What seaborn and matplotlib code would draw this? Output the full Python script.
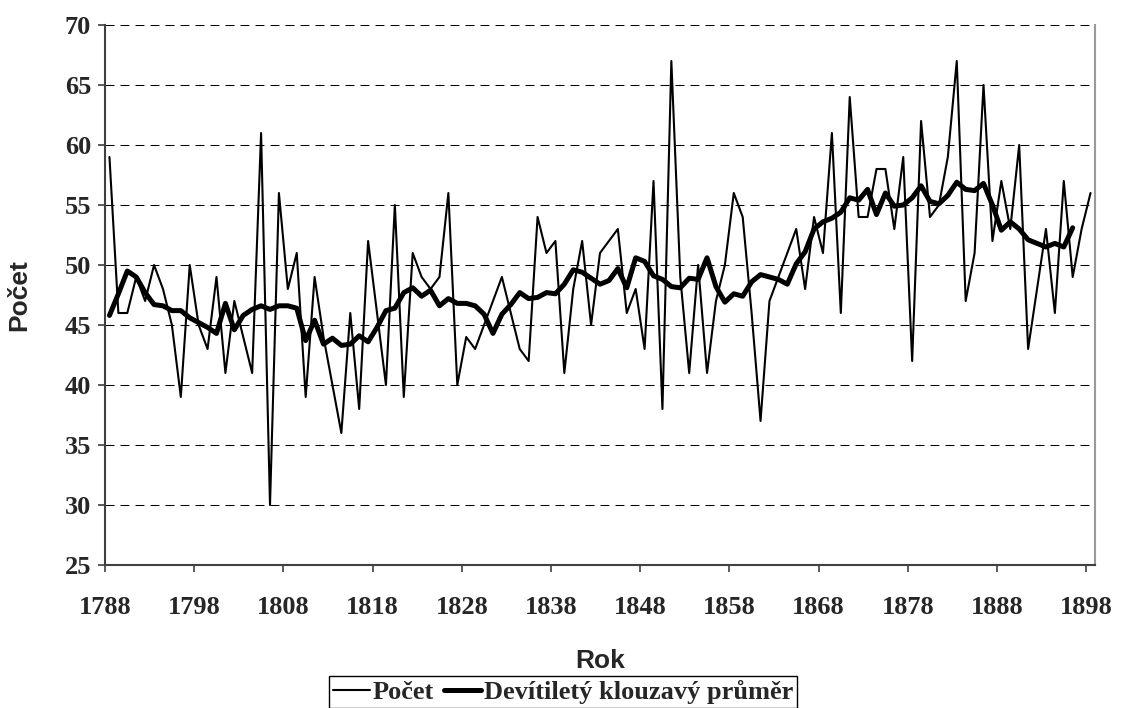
import matplotlib
matplotlib.use("Agg")
import matplotlib.pyplot as plt
import seaborn as sns
import pandas as pd

# ---- data -------------------------------------------------------------
years = list(range(1788, 1899))
pocet = [59, 46, 46, 49, 47, 50, 48, 45, 39, 50,
         45, 43, 49, 41, 47, 44, 41, 61, 30, 56,
         48, 51, 39, 49, 44, 40, 36, 46, 38, 52,
         46, 40, 55, 39, 51, 49, 48, 49, 56, 40,
         44, 43, 45, 47, 49, 46, 43, 42, 54, 51,
         52, 41, 48, 52, 45, 51, 52, 53, 46, 48,
         43, 57, 38, 67, 49, 41, 50, 41, 47, 50,
         56, 54, 46, 37, 47, 49, 51, 53, 48, 54,
         51, 61, 46, 64, 54, 54, 58, 58, 53, 59,
         42, 62, 54, 55, 59, 67, 47, 51, 65, 52,
         57, 53, 60, 43, 48, 53, 46, 57, 49, 53,
         56]

ma_years = list(range(1788, 1897))
klouzavy = [45.8, 47.6, 49.5, 49.0, 47.7, 46.7, 46.6, 46.2, 46.2, 45.6,
            45.2, 44.8, 44.3, 46.8, 44.6, 45.8, 46.3, 46.6, 46.3, 46.6,
            46.6, 46.4, 43.7, 45.4, 43.4, 43.9, 43.3, 43.4, 44.1, 43.6,
            44.8, 46.2, 46.4, 47.7, 48.1, 47.4, 47.9, 46.6, 47.2, 46.8,
            46.8, 46.6, 45.9, 44.3, 45.9, 46.7, 47.7, 47.2, 47.3, 47.7,
            47.6, 48.4, 49.6, 49.4, 48.9, 48.4, 48.7, 49.7, 48.1, 50.6,
            50.3, 49.1, 48.8, 48.2, 48.1, 48.9, 48.8, 50.6, 48.2, 46.9,
            47.6, 47.4, 48.6, 49.2, 49.0, 48.8, 48.4, 50.1, 51.1, 53.0,
            53.6, 53.9, 54.4, 55.6, 55.4, 56.3, 54.2, 56.0, 54.9, 55.0,
            55.6, 56.6, 55.3, 55.1, 55.8, 56.9, 56.3, 56.2, 56.8, 55.0,
            52.9, 53.6, 53.0, 52.1, 51.8, 51.5, 51.8, 51.5, 53.1]

x_tick_labels = [str(y) for y in range(1788, 1899, 10)]
y_ticks = list(range(25, 71, 5))

label_pocet = "Počet"
label_ma = "Devítiletý klouzavý průměr"
x_title = "Rok"
y_title = "Počet"

# ---- style ------------------------------------------------------------
sns.set_style("white")
plt.rcParams["font.family"] = ["Liberation Serif", "DejaVu Serif"]

W, H = 1122, 708
fig = plt.figure(figsize=(W / 100, H / 100), dpi=100)
L, R, T, B = 105, 1095, 25, 565
ax = fig.add_axes([L / W, (H - B) / H, (R - L) / W, (B - T) / H])

df1 = pd.DataFrame({"rok": years, "val": pocet})
df2 = pd.DataFrame({"rok": ma_years, "val": klouzavy})
sns.lineplot(data=df1, x="rok", y="val", ax=ax, color="black", lw=1.5,
             label=label_pocet)
sns.lineplot(data=df2, x="rok", y="val", ax=ax, color="black", lw=3.6,
             label=label_ma)
handles, labels = ax.get_legend_handles_labels()
if ax.get_legend() is not None:
    ax.get_legend().remove()

ax.set_xlim(years[0] - 0.5, years[-1] + 0.5)
ax.set_ylim(25, 70)

ax.set_xticks([years[0] - 0.5 + 10 * k for k in range(len(x_tick_labels))])
ax.set_xticklabels(x_tick_labels)
ax.set_yticks(y_ticks)
ax.set_yticklabels([str(v) for v in y_ticks])

serif = ["Liberation Serif", "DejaVu Serif"]
for lab in ax.get_xticklabels() + ax.get_yticklabels():
    lab.set_fontfamily(serif)
    lab.set_fontweight("bold")
    lab.set_fontsize(19)

ax.tick_params(axis="both", which="major", direction="out", length=5,
               width=1.2, color="#404040", bottom=True, left=True)
ax.tick_params(axis="x", pad=17)
ax.tick_params(axis="y", pad=5)

ax.yaxis.grid(True, color="black", linestyle=(0, (8.6, 5.8)), lw=0.75)
ax.xaxis.grid(False)

for side in ["left", "bottom"]:
    ax.spines[side].set_color("#404040")
    ax.spines[side].set_linewidth(1.5)
ax.spines["right"].set_color("#999999")
ax.spines["right"].set_linewidth(1.5)
ax.spines["top"].set_visible(False)

sans = ["Liberation Sans", "DejaVu Sans"]
ax.set_xlabel(x_title, fontfamily=sans, fontweight="bold", fontsize=19)
ax.set_ylabel(y_title, fontfamily=sans, fontweight="bold", fontsize=19)
ax.xaxis.set_label_coords(0.5, -0.155)
ax.yaxis.set_label_coords(-0.074, 0.5)

leg = fig.legend(handles, labels, loc="lower center",
                 bbox_to_anchor=(0.502, 0.0), ncol=2, frameon=True,
                 fancybox=False, edgecolor="black", framealpha=1,
                 prop=dict(family=serif, weight="bold", size=19),
                 handlelength=1.4, handletextpad=0.1, columnspacing=0.4,
                 borderpad=0.15, borderaxespad=0.0)
leg.get_frame().set_linewidth(1.0)

fig.savefig("out.png", dpi=100)
